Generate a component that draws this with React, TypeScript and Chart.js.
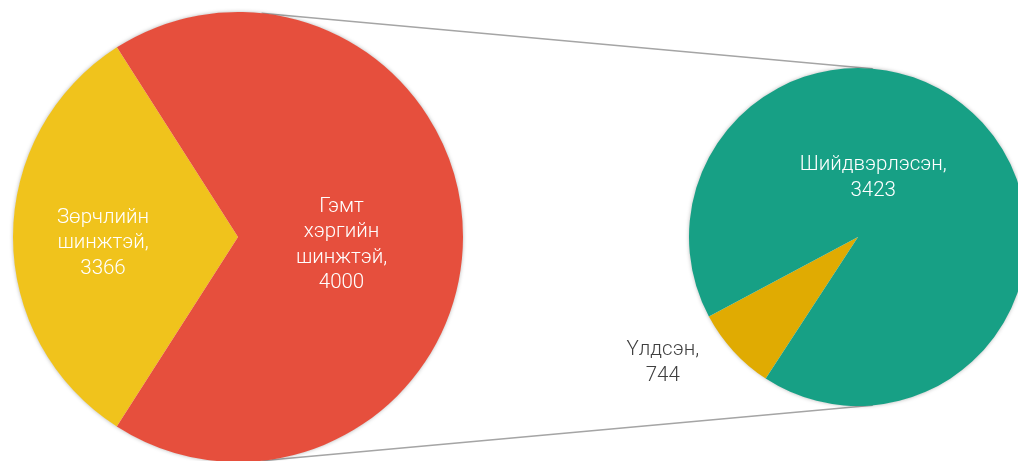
import React, { useEffect, useRef } from "react";
import { Chart, registerables } from "chart.js";
Chart.register(...registerables);

// ---- data ----
const leftCategories = ["Зөрчлийн шинжтэй,", "Гэмт хэргийн шинжтэй,"];
const leftValues = [3366, 4000];
const leftShares = [31.9, 68.1]; // slice sizes
const rightCategories = ["Үлдсэн,", "Шийдвэрлэсэн,"];
const rightValues = [744, 3423];
const rightShares = [8, 92]; // slice sizes

const leftColors = ["#F0C31C", "#E64F3D"];
const rightColors = ["#E0AB02", "#17A085"];

const FONT = "300 20.5px Roboto, 'Noto Sans', sans-serif";

type LabelSpec = { dx: number; dy: number; color: string };

function makePlugins(labelSpecs: LabelSpec[], cats: string[], vals: number[]) {
  const circleShadow = {
    id: "circleShadow",
    beforeDatasetsDraw(chart: any) {
      const arc = chart.getDatasetMeta(0).data[0];
      if (!arc) return;
      const ctx = chart.ctx;
      ctx.save();
      ctx.shadowColor = "rgba(0,0,0,0.35)";
      ctx.shadowBlur = 4;
      ctx.beginPath();
      ctx.arc(arc.x, arc.y, arc.outerRadius - 0.5, 0, Math.PI * 2);
      ctx.fillStyle = "#ffffff";
      ctx.fill();
      ctx.restore();
    },
  };
  const labels = {
    id: "sliceLabels",
    afterDatasetsDraw(chart: any) {
      const meta = chart.getDatasetMeta(0);
      const ctx = chart.ctx;
      ctx.save();
      ctx.font = FONT;
      ctx.textAlign = "center";
      ctx.textBaseline = "middle";
      meta.data.forEach((arc: any, i: number) => {
        const spec = labelSpecs[i];
        const r = arc.outerRadius;
        const cx = arc.x + spec.dx * r;
        const cy = arc.y + spec.dy * r;
        const lines = [...cats[i].split(" "), String(vals[i])];
        const lh = 25.5;
        const y0 = cy - ((lines.length - 1) * lh) / 2;
        ctx.fillStyle = spec.color;
        lines.forEach((ln, k) => ctx.fillText(ln, cx, y0 + k * lh));
      });
      ctx.restore();
    },
  };
  return [circleShadow, labels];
}

function makePie(
  canvas: HTMLCanvasElement,
  shares: number[],
  colors: string[],
  rotation: number,
  padding: any,
  plugins: any[]
) {
  return new Chart(canvas, {
    type: "pie",
    data: {
      labels: shares.map((_, i) => String(i)),
      datasets: [
        {
          data: shares,
          backgroundColor: colors,
          borderWidth: 0,
        },
      ],
    },
    options: {
      animation: false,
      responsive: false,
      rotation,
      layout: { padding },
      plugins: {
        legend: { display: false },
        tooltip: { enabled: false },
      },
    },
    plugins,
  });
}

export default function App() {
  const leftRef = useRef<HTMLCanvasElement>(null);
  const rightRef = useRef<HTMLCanvasElement>(null);
  const lineRef = useRef<HTMLCanvasElement>(null);

  useEffect(() => {
    document.body.style.margin = "0";
    document.body.style.overflow = "hidden";
    const left = makePie(
      leftRef.current!,
      leftShares,
      leftColors,
      212.6,
      10,
      makePlugins(
        [
          { dx: -0.6, dy: 0.027, color: "#ffffff" },
          { dx: 0.46, dy: 0.036, color: "#ffffff" },
        ],
        leftCategories,
        leftValues
      )
    );
    const right = makePie(
      rightRef.current!,
      rightShares,
      rightColors,
      213.1,
      { left: 70, right: 10, top: 10, bottom: 10 },
      makePlugins(
        [
          { dx: -1.155, dy: 0.745, color: "#404040" },
          { dx: 0.09, dy: -0.35, color: "#ffffff" },
        ],
        rightCategories,
        rightValues
      )
    );

    // connector lines between the two pies
    const lc = lineRef.current!;
    const ctx = lc.getContext("2d")!;
    const la = left.getDatasetMeta(0).data[0] as any;
    const ra = right.getDatasetMeta(0).data[0] as any;
    const lOff = { x: 3, y: 2 };
    const rOff = { x: 619, y: 58 };
    const L = { x: la.x + lOff.x, y: la.y + lOff.y, r: la.outerRadius };
    const R = { x: ra.x + rOff.x, y: ra.y + rOff.y, r: ra.outerRadius };
    const aL = (84 * Math.PI) / 180;
    const aR = (85 * Math.PI) / 180;
    ctx.clearRect(0, 0, lc.width, lc.height);
    ctx.strokeStyle = "#A5A5A5";
    ctx.lineWidth = 1.5;
    [-1, 1].forEach((s) => {
      ctx.beginPath();
      ctx.moveTo(L.x + L.r * Math.cos(s * aL), L.y + L.r * Math.sin(s * aL));
      ctx.lineTo(R.x + R.r * Math.cos(s * aR), R.y + R.r * Math.sin(s * aR));
      ctx.stroke();
    });

    return () => {
      left.destroy();
      right.destroy();
    };
  }, []);

  return (
    <div
      style={{
        position: "relative",
        width: 1018,
        height: 461,
        overflow: "hidden",
        background: "#ffffff",
      }}
    >
      <canvas
        ref={lineRef}
        width={1018}
        height={461}
        style={{ position: "absolute", left: 0, top: 0 }}
      />
      <canvas
        ref={leftRef}
        width={470}
        height={470}
        style={{ position: "absolute", left: 3, top: 2 }}
      />
      <canvas
        ref={rightRef}
        width={418}
        height={358}
        style={{ position: "absolute", left: 619, top: 58 }}
      />
    </div>
  );
}
